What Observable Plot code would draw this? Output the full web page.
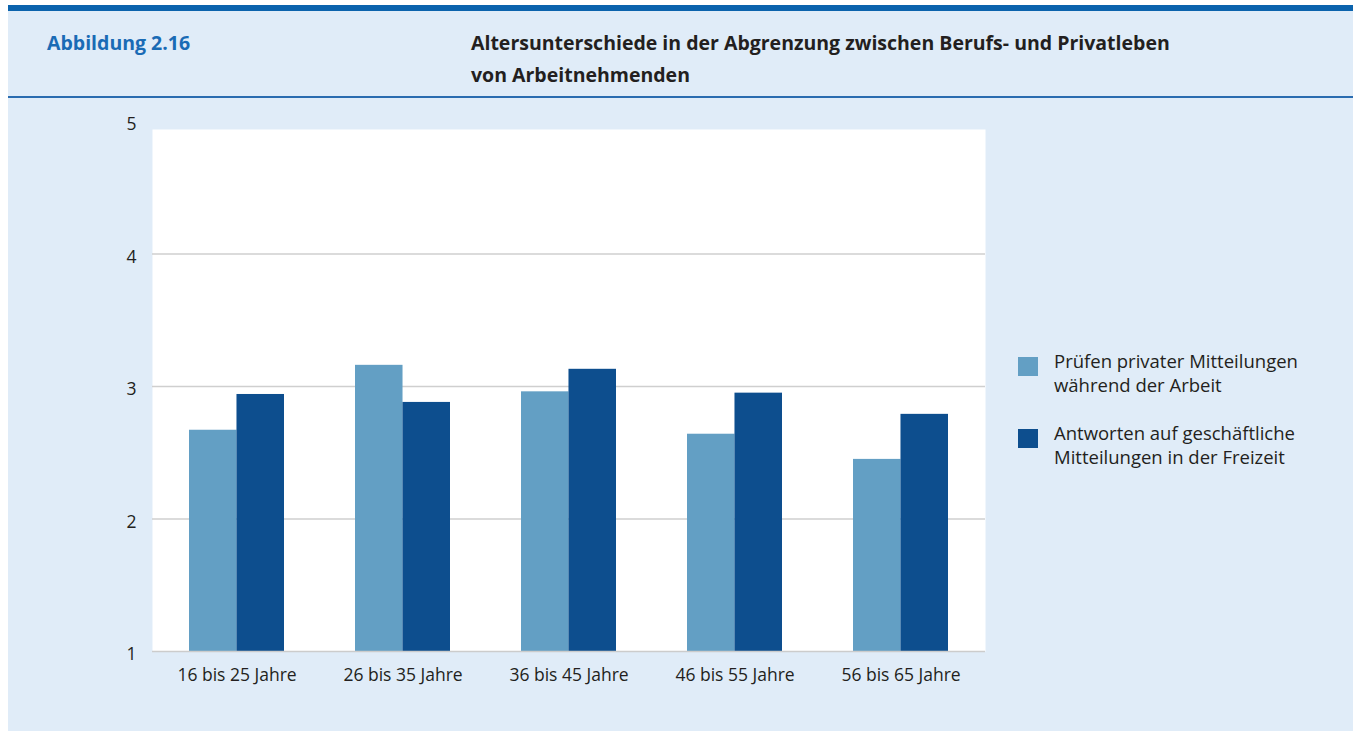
<!DOCTYPE html>
<html><head><meta charset="utf-8">
<script src="https://cdn.jsdelivr.net/npm/d3@7"></script>
<script src="https://cdn.jsdelivr.net/npm/@observablehq/plot@0.6"></script>
<style>
body{margin:0;background:#fff;font-family:"Open Sans",sans-serif;color:#231f20;}
#panel{position:absolute;left:8px;top:5px;width:1345px;height:726px;background:#e0ecf8;border-top:6px solid #0b63ad;box-sizing:border-box;}
#fig{position:absolute;left:39px;top:16px;font-weight:700;font-size:19.5px;line-height:32px;color:#1a6bb5;}
#title{position:absolute;left:463px;top:16px;font-weight:700;font-size:19.5px;line-height:32px;color:#231f20;}
#sep{position:absolute;left:0;top:85px;width:100%;height:2px;background:#2a6cb0;}
#chart{position:absolute;left:0;top:87px;}
#legend{position:absolute;left:1010px;top:338px;font-size:18.5px;line-height:24px;}
.item{position:relative;padding-left:36px;margin-bottom:24px;}
.sw{position:absolute;left:0;top:8px;width:20px;height:19px;}
</style></head>
<body>
<div id="panel">
  <div id="fig">Abbildung 2.16</div>
  <div id="title">Altersunterschiede in der Abgrenzung zwischen Berufs- und Privatleben<br>von Arbeitnehmenden</div>
  <div id="sep"></div>
  <div id="chart"></div>
  <div id="legend"></div>
</div>
<script>
const ages = ["16 bis 25 Jahre","26 bis 35 Jahre","36 bis 45 Jahre","46 bis 55 Jahre","56 bis 65 Jahre"];
const seriesNames = ["Prüfen privater Mitteilungen während der Arbeit","Antworten auf geschäftliche Mitteilungen in der Freizeit"];
const legendLines = [["Prüfen privater Mitteilungen","während der Arbeit"],["Antworten auf geschäftliche","Mitteilungen in der Freizeit"]];
const privat = [2.67, 3.16, 2.96, 2.64, 2.45];
const beruf = [2.94, 2.88, 3.13, 2.95, 2.79];
const yTicks = [1, 2, 3, 4, 5];
const colors = ["#639fc4", "#0d4e8e"];

const rows = ages.flatMap((a, i) => [
  {age: a, series: seriesNames[0], value: privat[i]},
  {age: a, series: seriesNames[1], value: beruf[i]}
]);

const W = 990, H = 639;
const mL = 144, mR = 13, mT = 31, mB = 86;
const step = (W - mL - mR) / ages.length;
const padIn = 0.43;
const half = step * (1 - padIn) / 2;

const plot = Plot.plot({
  width: W, height: H,
  marginLeft: mL, marginRight: mR, marginTop: mT, marginBottom: mB,
  style: {background: "transparent", fontFamily: "Open Sans, sans-serif", fontSize: "17.5px", color: "#231f20", overflow: "visible"},
  x: {domain: ages, paddingInner: padIn, paddingOuter: padIn / 2, label: null},
  y: {domain: [1, 4.94], label: null},
  marks: [
    Plot.frame({fill: "white", stroke: null}),
    Plot.ruleY([2, 3, 4], {stroke: "#cfcfcf", strokeWidth: 1.5}),
    Plot.barY(rows.filter(d => d.series === seriesNames[0]), {x: "age", y1: 1, y2: "value", fill: colors[0], insetRight: half}),
    Plot.barY(rows.filter(d => d.series === seriesNames[1]), {x: "age", y1: 1, y2: "value", fill: colors[1], insetLeft: half}),
    Plot.ruleY([1], {stroke: "#cccccc", strokeWidth: 1.5}),
    Plot.ruleX([0], {frameAnchor: "left", stroke: "#9a9a9a", strokeWidth: 2}),
    Plot.axisY(yTicks, {tickSize: 0, tickPadding: 16, dy: 3, fontSize: 17.5, tickFormat: d => String(d)}),
    Plot.axisX({tickSize: 0, tickPadding: 17, fontSize: 17.5})
  ]
});
document.getElementById("chart").appendChild(plot);

const leg = document.getElementById("legend");
legendLines.forEach((lines, i) => {
  const it = document.createElement("div");
  it.className = "item";
  const sw = document.createElement("div");
  sw.className = "sw"; sw.style.background = colors[i];
  it.appendChild(sw);
  const t = document.createElement("div");
  t.innerHTML = lines.join("<br>");
  it.appendChild(t);
  leg.appendChild(it);
});
</script>
</body></html>
